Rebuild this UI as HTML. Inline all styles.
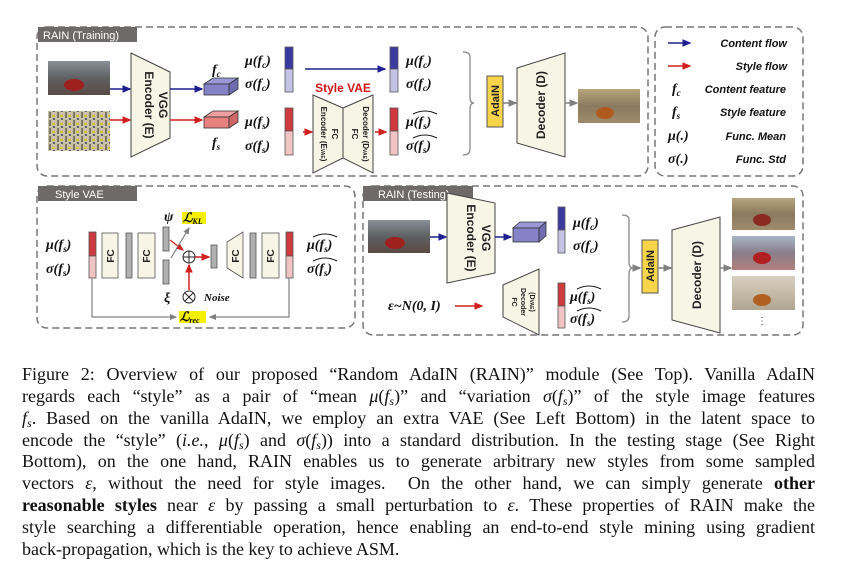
<!DOCTYPE html>
<html><head><meta charset="utf-8"><style>
html,body{margin:0;padding:0;background:#fff;}
body{width:863px;height:571px;position:relative;overflow:hidden;}
svg{position:absolute;left:0;top:0;}
.cap{position:absolute;left:22px;width:793px;font-family:"Liberation Serif",serif;font-size:18px;line-height:21.85px;color:#111;}
.cap div{text-align:justify;text-align-last:justify;white-space:nowrap;height:21.85px;}
.cap div.last{text-align-last:left;}
.m{font-style:italic;}
.s{font-style:italic;font-size:12px;position:relative;top:3px;line-height:0;}
</style></head><body>
<svg width="863" height="571" viewBox="0 0 863 571" font-family="Liberation Sans, sans-serif">
<defs>
<marker id="ab" markerWidth="6" markerHeight="6" refX="5" refY="3" orient="auto"><path d="M0,0.5 L6,3 L0,5.5z" fill="#1f1f8f"/></marker>
<marker id="ar" markerWidth="6" markerHeight="6" refX="5" refY="3" orient="auto"><path d="M0,0.5 L6,3 L0,5.5z" fill="#d02020"/></marker>
<marker id="ag" markerWidth="6" markerHeight="6" refX="5" refY="3" orient="auto"><path d="M0,0.5 L6,3 L0,5.5z" fill="#808080"/></marker>
<linearGradient id="img" x1="0" y1="0" x2="0" y2="1"><stop offset="0" stop-color="#8a9098"/><stop offset=".5" stop-color="#5e6062"/><stop offset="1" stop-color="#5a4a44"/></linearGradient>
<linearGradient id="img2" x1="0" y1="0" x2="0" y2="1"><stop offset="0" stop-color="#b7a57e"/><stop offset=".5" stop-color="#8b7a5e"/><stop offset="1" stop-color="#a08a6c"/></linearGradient>
<linearGradient id="img3" x1="0" y1="0" x2="0" y2="1"><stop offset="0" stop-color="#a9b4c8"/><stop offset=".5" stop-color="#8a7f8a"/><stop offset="1" stop-color="#b08080"/></linearGradient>
<linearGradient id="img4" x1="0" y1="0" x2="0" y2="1"><stop offset="0" stop-color="#d8d0c0"/><stop offset="1" stop-color="#b0a590"/></linearGradient>
<pattern id="art" width="8" height="8" patternUnits="userSpaceOnUse"><rect width="8" height="8" fill="#c9c2a8"/><rect x="1" y="0" width="2" height="6" fill="#7a7560"/><rect x="4" y="3" width="3" height="2" fill="#d8c040"/><rect x="5" y="6" width="2" height="2" fill="#5a6070"/></pattern>
</defs>
<g fill="none" stroke="#777" stroke-width="1.5" stroke-dasharray="7,4">
<rect x="37" y="27" width="611" height="149" rx="10"/>
<rect x="655" y="27" width="148" height="149" rx="10"/>
<rect x="37" y="186" width="318" height="142" rx="10"/>
<rect x="363" y="186" width="440" height="149" rx="10"/>
</g>
<g font-size="11" fill="#fff">
<rect x="38" y="27" width="99" height="15" fill="#6e6a6a"/><text x="43" y="39">RAIN (Training)</text>
<rect x="38" y="186" width="99" height="15" fill="#6e6a6a"/><text x="55" y="198">Style VAE</text>
<rect x="363" y="186" width="110" height="15" fill="#6e6a6a"/><text x="378" y="198">RAIN (Testing)</text>
</g>
<!-- TOP -->
<rect x="48" y="61" width="62" height="34" fill="url(#img)"/><ellipse cx="74" cy="85" rx="10" ry="6" fill="#a02020"/>
<rect x="48" y="111" width="62" height="40" fill="url(#art)"/>
<line x1="110" y1="89" x2="130" y2="89" stroke="#1f1f8f" stroke-width="1.5" marker-end="url(#ab)"/>
<line x1="110" y1="120" x2="130" y2="120" stroke="#d02020" stroke-width="1.5" marker-end="url(#ar)"/>
<polygon points="131,53 170,72 170,138 131,157" fill="#f7f6e6" stroke="#444" stroke-width="1"/>
<text transform="translate(159,105) rotate(90)" font-size="12" font-weight="bold" text-anchor="middle" fill="#222">VGG</text>
<text transform="translate(145,105) rotate(90)" font-size="12" font-weight="bold" text-anchor="middle" fill="#222">Encoder (E)</text>
<line x1="170" y1="89" x2="202" y2="89" stroke="#1f1f8f" stroke-width="1.5" marker-end="url(#ab)"/>
<line x1="170" y1="120" x2="202" y2="120" stroke="#d02020" stroke-width="1.5" marker-end="url(#ar)"/>
<g stroke="#333" stroke-width=".8">
<polygon points="204,84 229,84 238,78 213,78" fill="#9a98d8"/><rect x="204" y="84" width="25" height="11" fill="#8582c8"/><polygon points="229,84 238,78 238,89 229,95" fill="#6f6cb0"/>
<polygon points="204,117 229,117 238,111 213,111" fill="#f0a0a0"/><rect x="204" y="117" width="25" height="11" fill="#e88080"/><polygon points="229,117 238,111 238,122 229,128" fill="#d06868"/>
</g>
<g font-family="Liberation Serif, serif" font-weight="bold" font-style="italic" fill="#111" font-size="14">
<text x="212" y="74">f<tspan font-size="9" dy="3">c</tspan></text>
<text x="212" y="147">f<tspan font-size="9" dy="3">s</tspan></text>
<text x="245" y="65">μ(f<tspan font-size="9" dy="3">c</tspan><tspan dy="-3">)</tspan></text>
<text x="245" y="88">σ(f<tspan font-size="9" dy="3">c</tspan><tspan dy="-3">)</tspan></text>
<text x="245" y="126">μ(f<tspan font-size="9" dy="3">s</tspan><tspan dy="-3">)</tspan></text>
<text x="245" y="150">σ(f<tspan font-size="9" dy="3">s</tspan><tspan dy="-3">)</tspan></text>
<text x="406" y="65">μ(f<tspan font-size="9" dy="3">c</tspan><tspan dy="-3">)</tspan></text>
<text x="406" y="88">σ(f<tspan font-size="9" dy="3">c</tspan><tspan dy="-3">)</tspan></text>
<text x="406" y="126">μ(f<tspan font-size="9" dy="3">s</tspan><tspan dy="-3">)</tspan></text>
<text x="406" y="150">σ(f<tspan font-size="9" dy="3">s</tspan><tspan dy="-3">)</tspan></text>
</g>
<path d="M413,114 q12,-6 24,0 M413,138 q12,-6 24,0" stroke="#111" fill="none" stroke-width="1"/>
<g stroke="#555" stroke-width=".8">
<rect x="285" y="47" width="8" height="22" fill="#3c3a9e"/><rect x="285" y="69" width="8" height="23" fill="#c4c3e6"/>
<rect x="285" y="108" width="8" height="23" fill="#cf3a3e"/><rect x="285" y="131" width="8" height="24" fill="#f1c4c4"/>
<rect x="390" y="47" width="8" height="22" fill="#3c3a9e"/><rect x="390" y="69" width="8" height="23" fill="#c4c3e6"/>
<rect x="390" y="108" width="8" height="23" fill="#cf3a3e"/><rect x="390" y="131" width="8" height="24" fill="#f1c4c4"/>
</g>
<line x1="305" y1="69" x2="385" y2="69" stroke="#1f1f8f" stroke-width="1.5" marker-end="url(#ab)"/>
<line x1="303" y1="132" x2="312" y2="132" stroke="#d02020" stroke-width="1.5" marker-end="url(#ar)"/>
<line x1="375" y1="132" x2="386" y2="132" stroke="#d02020" stroke-width="1.5" marker-end="url(#ar)"/>
<text x="343" y="92" font-size="12" font-weight="bold" fill="#d01818" text-anchor="middle">Style VAE</text>
<polygon points="313,95 343,108 343,158 313,173" fill="#f7f6e6" stroke="#444"/>
<polygon points="373,95 343,108 343,158 373,173" fill="#f7f6e6" stroke="#444"/>
<g font-size="8" fill="#222" font-weight="bold">
<text transform="translate(321,134) rotate(90)" text-anchor="middle">Encoder (E<tspan font-size="5">VAE</tspan>)</text>
<text transform="translate(332,134) rotate(90)" text-anchor="middle">FC</text>
<text transform="translate(352,134) rotate(90)" text-anchor="middle">FC</text>
<text transform="translate(363,134) rotate(90)" text-anchor="middle">Decoder (D<tspan font-size="5">VAE</tspan>)</text>
</g>
<path d="M463,52 q7,0 7,5 v40 q0,6 4,6 q-4,0 -4,6 v40 q0,6 -7,6" fill="none" stroke="#888" stroke-width="1.3"/>
<rect x="487" y="76" width="16" height="51" fill="#f7d44a" stroke="#555"/>
<text transform="translate(499,101) rotate(-90)" font-size="11" font-weight="bold" text-anchor="middle" fill="#222">AdaIN</text>
<line x1="503" y1="103" x2="516" y2="103" stroke="#808080" stroke-width="1.5" marker-end="url(#ag)"/>
<polygon points="517,68 565,53 565,157 517,143" fill="#f7f6e6" stroke="#444"/>
<text transform="translate(545,105) rotate(-90)" font-size="12" font-weight="bold" text-anchor="middle" fill="#222">Decoder (D)</text>
<line x1="565" y1="103" x2="577" y2="103" stroke="#808080" stroke-width="1.5" marker-end="url(#ag)"/>
<rect x="578" y="89" width="62" height="34" fill="url(#img2)"/><ellipse cx="605" cy="113" rx="9" ry="6" fill="#b05a20"/>
<!-- legend -->
<line x1="668" y1="43" x2="690" y2="43" stroke="#1f1f8f" stroke-width="1.5" marker-end="url(#ab)"/>
<line x1="668" y1="66" x2="690" y2="66" stroke="#d02020" stroke-width="1.5" marker-end="url(#ar)"/>
<g font-size="11" font-weight="bold" font-style="italic" fill="#111" text-anchor="end">
<text x="787" y="47">Content flow</text><text x="787" y="70">Style flow</text>
<text x="786" y="93">Content feature</text><text x="786" y="116">Style feature</text>
<text x="786" y="140">Func. Mean</text><text x="786" y="163">Func. Std</text>
</g>
<g font-family="Liberation Serif, serif" font-weight="bold" font-style="italic" fill="#111" font-size="14">
<text x="672" y="93">f<tspan font-size="9" dy="3">c</tspan></text>
<text x="672" y="116">f<tspan font-size="9" dy="3">s</tspan></text>
<text x="668" y="140">μ(.)</text><text x="668" y="163">σ(.)</text>
</g>
<!-- STYLE VAE -->
<g font-family="Liberation Serif, serif" font-weight="bold" font-style="italic" fill="#111" font-size="14">
<text x="46" y="249">μ(f<tspan font-size="9" dy="3">s</tspan><tspan dy="-3">)</tspan></text>
<text x="46" y="273">σ(f<tspan font-size="9" dy="3">s</tspan><tspan dy="-3">)</tspan></text>
<text x="307" y="249">μ(f<tspan font-size="9" dy="3">s</tspan><tspan dy="-3">)</tspan></text>
<text x="307" y="273">σ(f<tspan font-size="9" dy="3">s</tspan><tspan dy="-3">)</tspan></text>
<text x="164" y="221">ψ</text><text x="164" y="302">ξ</text>
<text x="388" y="310">ε~N(0, I)</text>
<text x="573" y="227">μ(f<tspan font-size="9" dy="3">c</tspan><tspan dy="-3">)</tspan></text>
<text x="573" y="250">σ(f<tspan font-size="9" dy="3">c</tspan><tspan dy="-3">)</tspan></text>
<text x="570" y="301">μ(f<tspan font-size="9" dy="3">s</tspan><tspan dy="-3">)</tspan></text>
<text x="570" y="323">σ(f<tspan font-size="9" dy="3">s</tspan><tspan dy="-3">)</tspan></text>
</g>
<path d="M313,237 q12,-6 24,0 M313,261 q12,-6 24,0 M577,289 q12,-6 24,0 M577,311 q12,-6 24,0" stroke="#111" fill="none" stroke-width="1"/>
<g stroke="#555" stroke-width=".8">
<rect x="89" y="232" width="7" height="24" fill="#cf3a3e"/><rect x="89" y="256" width="7" height="22" fill="#f1c4c4"/>
<rect x="286" y="232" width="7" height="24" fill="#cf3a3e"/><rect x="286" y="256" width="7" height="22" fill="#f1c4c4"/>
<rect x="102" y="233" width="16" height="45" fill="#f7f6e6"/><rect x="138" y="233" width="17" height="45" fill="#f7f6e6"/>
<rect x="262" y="233" width="17" height="45" fill="#f7f6e6"/>
<rect x="126" y="233" width="6" height="45" fill="#b0b0b0"/><rect x="250" y="233" width="6" height="45" fill="#b0b0b0"/>
<rect x="163" y="227" width="6" height="24" fill="#b0b0b0"/><rect x="163" y="260" width="6" height="24" fill="#b0b0b0"/>
<rect x="211" y="245" width="6" height="23" fill="#b0b0b0"/>
<polygon points="227,242 243,232 243,278 227,268" fill="#f7f6e6"/>
</g>
<g font-size="10" font-weight="bold" fill="#222" text-anchor="middle">
<text transform="translate(114,256) rotate(-90)">FC</text><text transform="translate(150,256) rotate(-90)">FC</text>
<text transform="translate(239,256) rotate(-90)">FC</text><text transform="translate(274,256) rotate(-90)">FC</text>
</g>
<line x1="171" y1="258" x2="189" y2="228" stroke="#808080" stroke-width="1.2" marker-end="url(#ag)"/>
<line x1="170" y1="240" x2="183" y2="250" stroke="#d02020" stroke-width="1.2" marker-end="url(#ar)"/>
<circle cx="189" cy="257" r="6" fill="none" stroke="#222"/><path d="M183,257h12M189,251v12" stroke="#222"/>
<line x1="195" y1="257" x2="209" y2="257" stroke="#d02020" stroke-width="1.5" marker-end="url(#ar)"/>
<circle cx="189" cy="297" r="6" fill="none" stroke="#222"/><path d="M185,293l8,8M193,293l-8,8" stroke="#222"/>
<line x1="189" y1="290" x2="189" y2="265" stroke="#d02020" stroke-width="1.5" marker-end="url(#ar)"/>
<text x="204" y="301" font-family="Liberation Serif, serif" font-size="11" font-weight="bold" font-style="italic" fill="#111">Noise</text>
<rect x="182" y="212" width="24" height="12" fill="#f5f000"/>
<text x="183" y="222" font-family="Liberation Serif, serif" font-size="13" font-weight="bold" font-style="italic" fill="#111">ℒ<tspan font-size="8" dy="2">KL</tspan></text>
<rect x="179" y="311" width="27" height="12" fill="#f5f000"/>
<text x="180" y="321" font-family="Liberation Serif, serif" font-size="13" font-weight="bold" font-style="italic" fill="#111">ℒ<tspan font-size="8" dy="2">rec</tspan></text>
<path d="M92,278 V317 H176" fill="none" stroke="#808080" stroke-width="1.2" marker-end="url(#ag)"/>
<path d="M289,278 V317 H210" fill="none" stroke="#808080" stroke-width="1.2" marker-end="url(#ag)"/>
<!-- TESTING -->
<rect x="368" y="220" width="62" height="33" fill="url(#img)"/><ellipse cx="395" cy="243" rx="10" ry="6" fill="#a02020"/>
<line x1="430" y1="237" x2="446" y2="237" stroke="#1f1f8f" stroke-width="1.5" marker-end="url(#ab)"/>
<polygon points="447,193 495,203 495,273 447,283" fill="#f7f6e6" stroke="#444"/>
<text transform="translate(482,238) rotate(90)" font-size="12" font-weight="bold" text-anchor="middle" fill="#222">VGG</text>
<text transform="translate(467,238) rotate(90)" font-size="12" font-weight="bold" text-anchor="middle" fill="#222">Encoder (E)</text>
<line x1="495" y1="237" x2="511" y2="237" stroke="#1f1f8f" stroke-width="1.5" marker-end="url(#ab)"/>
<g stroke="#333" stroke-width=".8">
<polygon points="513,228 539,228 546,222 520,222" fill="#9a98d8"/><rect x="513" y="228" width="26" height="14" fill="#8582c8"/><polygon points="539,228 546,222 546,236 539,242" fill="#6f6cb0"/>
</g>
<g stroke="#555" stroke-width=".8">
<rect x="558" y="207" width="7" height="23" fill="#3c3a9e"/><rect x="558" y="230" width="7" height="23" fill="#c4c3e6"/>
<rect x="558" y="283" width="7" height="23" fill="#cf3a3e"/><rect x="558" y="306" width="7" height="22" fill="#f1c4c4"/>
</g>
<line x1="455" y1="306" x2="482" y2="306" stroke="#d02020" stroke-width="1.5" marker-end="url(#ar)"/>
<polygon points="503,285 539,269 539,335 503,317" fill="#f7f6e6" stroke="#444"/>
<g font-size="7" font-weight="bold" fill="#222" text-anchor="middle">
<text transform="translate(512,302) rotate(90)">FC</text>
<text transform="translate(521,302) rotate(90)">Decoder</text>
<text transform="translate(530,302) rotate(90)">(D<tspan font-size="5">VAE</tspan>)</text>
</g>
<path d="M622,215 q7,0 7,5 v42 q0,6 4,6 q-4,0 -4,6 v42 q0,6 -7,6" fill="none" stroke="#888" stroke-width="1.3"/>
<line x1="633" y1="268" x2="640" y2="268" stroke="#808080" stroke-width="1.5" marker-end="url(#ag)"/>
<rect x="642" y="240" width="16" height="53" fill="#f7d44a" stroke="#555"/>
<text transform="translate(654,266) rotate(-90)" font-size="11" font-weight="bold" text-anchor="middle" fill="#222">AdaIN</text>
<line x1="658" y1="268" x2="671" y2="268" stroke="#808080" stroke-width="1.5" marker-end="url(#ag)"/>
<polygon points="672,230 720,217 720,333 672,320" fill="#f7f6e6" stroke="#444"/>
<text transform="translate(701,275) rotate(-90)" font-size="12" font-weight="bold" text-anchor="middle" fill="#222">Decoder (D)</text>
<line x1="720" y1="268" x2="731" y2="268" stroke="#808080" stroke-width="1.5" marker-end="url(#ag)"/>
<rect x="732" y="198" width="63" height="32" fill="url(#img2)"/><ellipse cx="762" cy="220" rx="9" ry="6" fill="#8a2a20"/>
<rect x="732" y="236" width="63" height="34" fill="url(#img3)"/><ellipse cx="762" cy="258" rx="9" ry="6" fill="#b02020"/>
<rect x="732" y="276" width="63" height="34" fill="url(#img4)"/><ellipse cx="762" cy="300" rx="9" ry="6" fill="#b06020"/>
<text x="762" y="324" font-size="10" fill="#333" text-anchor="middle">⋮</text>
</svg>
<div class="cap" style="top:364px;">
<div>Figure 2: Overview of our proposed “Random AdaIN (RAIN)” module (See Top). Vanilla AdaIN</div>
<div>regards each “style” as a pair of “mean <span class="m">μ</span>(<span class="m">f</span><span class="s">s</span>)” and “variation <span class="m">σ</span>(<span class="m">f</span><span class="s">s</span>)” of the style image features</div>
<div><span class="m">f</span><span class="s">s</span>. Based on the vanilla AdaIN, we employ an extra VAE (See Left Bottom) in the latent space to</div>
<div>encode the “style” (<i>i.e.</i>, <span class="m">μ</span>(<span class="m">f</span><span class="s">s</span>) and <span class="m">σ</span>(<span class="m">f</span><span class="s">s</span>)) into a standard distribution. In the testing stage (See Right</div>
<div>Bottom), on the one hand, RAIN enables us to generate arbitrary new styles from some sampled</div>
<div>vectors <span class="m">ε</span>, without the need for style images. &nbsp;On the other hand, we can simply generate <b>other</b></div>
<div><b>reasonable styles</b> near <span class="m">ε</span> by passing a small perturbation to <span class="m">ε</span>. These properties of RAIN make the</div>
<div>style searching a differentiable operation, hence enabling an end-to-end style mining using gradient</div>
<div class="last">back-propagation, which is the key to achieve ASM.</div>
</div>
</body></html>
